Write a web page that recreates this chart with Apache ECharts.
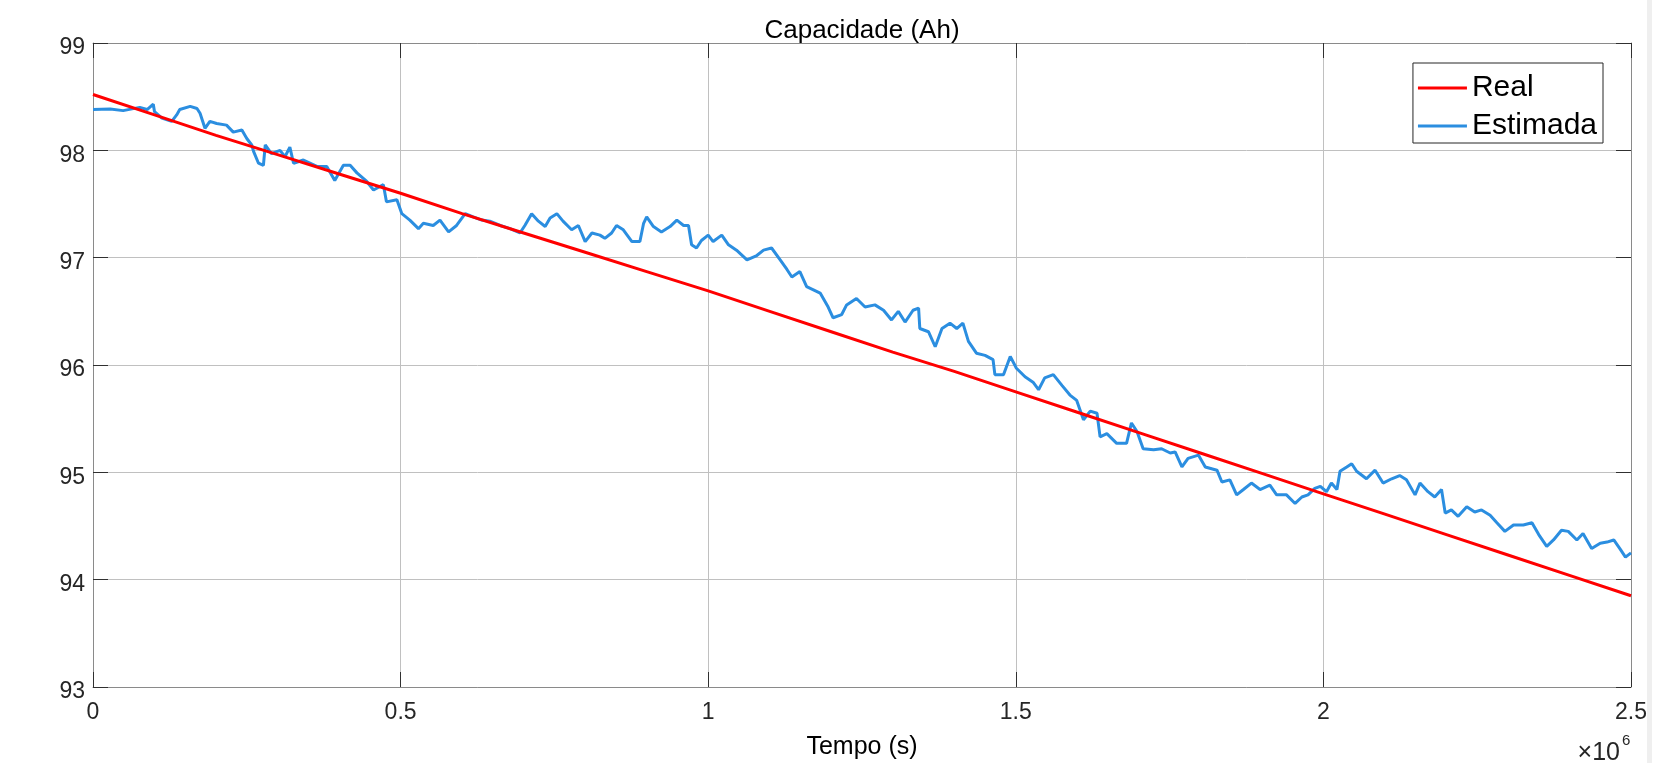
<!DOCTYPE html>
<html>
<head>
<meta charset="utf-8">
<script src="https://cdn.jsdelivr.net/npm/echarts@6/dist/echarts.min.js"></script>
<style>
html,body{margin:0;padding:0;background:#fff;}
#chart{width:1669px;height:763px;}
</style>
</head>
<body>
<div id="chart"></div>
<script>
// time in units of 1e6 s
var tReal = [0,0.1,0.2,0.3,0.4,0.5,0.6,0.7,0.8,0.9,1.0,1.1,1.2,1.3,1.4,1.5,1.6,1.7,1.8,1.9,2.0,2.1,2.2,2.3,2.4,2.5];
var capReal = [98.52,98.33,98.14,97.96,97.78,97.60,97.41,97.23,97.05,96.87,96.69,96.50,96.31,96.12,95.94,95.75,95.56,95.37,95.18,94.99,94.80,94.61,94.42,94.23,94.04,93.85];

var tEst = [0.000,0.028,0.049,0.076,0.088,0.098,0.100,0.112,0.128,0.136,0.141,0.158,0.169,0.174,0.182,0.190,0.201,0.217,0.228,0.242,0.250,0.258,0.261,0.269,0.277,0.280,0.290,0.304,0.312,0.320,0.326,0.342,0.364,0.380,0.393,0.407,0.418,0.429,0.445,0.456,0.472,0.477,0.494,0.502,0.515,0.529,0.537,0.553,0.564,0.578,0.591,0.605,0.618,0.632,0.645,0.662,0.678,0.694,0.702,0.713,0.724,0.735,0.743,0.754,0.764,0.778,0.789,0.800,0.811,0.824,0.832,0.843,0.851,0.862,0.876,0.889,0.895,0.900,0.911,0.924,0.938,0.949,0.960,0.968,0.973,0.981,0.989,1.000,1.008,1.022,1.033,1.046,1.063,1.079,1.090,1.103,1.117,1.128,1.136,1.149,1.160,1.171,1.182,1.195,1.203,1.217,1.225,1.241,1.255,1.271,1.285,1.298,1.309,1.320,1.333,1.342,1.344,1.358,1.369,1.380,1.393,1.404,1.414,1.423,1.436,1.450,1.463,1.466,1.480,1.491,1.501,1.515,1.528,1.537,1.547,1.561,1.575,1.588,1.599,1.610,1.621,1.632,1.637,1.648,1.664,1.680,1.688,1.697,1.707,1.724,1.737,1.751,1.759,1.770,1.780,1.797,1.808,1.827,1.835,1.848,1.859,1.870,1.883,1.897,1.913,1.924,1.940,1.954,1.965,1.975,1.986,1.995,2.005,2.013,2.022,2.027,2.038,2.046,2.054,2.070,2.084,2.097,2.111,2.124,2.135,2.149,2.157,2.170,2.181,2.192,2.198,2.208,2.219,2.233,2.246,2.257,2.271,2.282,2.295,2.309,2.325,2.339,2.350,2.363,2.374,2.387,2.398,2.412,2.422,2.436,2.450,2.461,2.472,2.483,2.491,2.500];
var capEst = [98.38,98.385,98.37,98.40,98.38,98.43,98.36,98.30,98.27,98.33,98.38,98.41,98.39,98.345,98.205,98.27,98.25,98.235,98.17,98.19,98.11,98.05,97.99,97.88,97.86,98.05,97.97,98.00,97.94,98.03,97.88,97.91,97.85,97.85,97.72,97.86,97.86,97.79,97.71,97.63,97.68,97.52,97.54,97.41,97.35,97.27,97.32,97.30,97.35,97.24,97.30,97.41,97.38,97.35,97.34,97.30,97.27,97.23,97.30,97.41,97.34,97.29,97.37,97.41,97.34,97.26,97.30,97.15,97.23,97.21,97.18,97.23,97.30,97.26,97.15,97.15,97.32,97.38,97.29,97.24,97.29,97.35,97.30,97.30,97.12,97.09,97.16,97.21,97.15,97.21,97.12,97.07,96.98,97.02,97.07,97.09,96.98,96.89,96.82,96.87,96.73,96.70,96.67,96.54,96.44,96.47,96.56,96.62,96.54,96.56,96.51,96.42,96.50,96.40,96.51,96.53,96.34,96.31,96.17,96.34,96.39,96.34,96.39,96.22,96.11,96.09,96.05,95.91,95.91,96.08,95.97,95.89,95.84,95.77,95.88,95.91,95.81,95.72,95.67,95.49,95.57,95.55,95.33,95.36,95.27,95.27,95.46,95.38,95.22,95.21,95.22,95.18,95.19,95.05,95.13,95.16,95.05,95.02,94.91,94.93,94.79,94.84,94.90,94.84,94.88,94.79,94.79,94.71,94.77,94.79,94.85,94.87,94.82,94.90,94.84,95.01,95.05,95.08,95.01,94.94,95.02,94.90,94.94,94.97,94.93,94.79,94.90,94.82,94.77,94.84,94.62,94.65,94.59,94.68,94.63,94.65,94.60,94.53,94.45,94.51,94.51,94.53,94.42,94.31,94.37,94.46,94.45,94.37,94.43,94.29,94.34,94.35,94.37,94.28,94.21,94.25];

var xTicks = [0, 0.5, 1, 1.5, 2, 2.5];
var yTicks = [93, 94, 95, 96, 97, 98, 99];
var seriesNames = ['Real', 'Estimada'];
var titleText = 'Capacidade (Ah)';
var xName = 'Tempo (s)';

function pairs(xs, ys) { return xs.map(function (x, i) { return [x, ys[i]]; }); }

var FONT = '"Liberation Sans", Arial, Helvetica, sans-serif';
var axisLineColor = '#8a8a8a';
var gridColor = '#c0c0c0';
var tickStyle = {show: true, inside: true, length: 15, lineStyle: {color: '#303030', width: 1}};
var lineStyleAxis = {show: true, onZero: false, lineStyle: {color: axisLineColor, width: 1}};

var chart = echarts.init(document.getElementById('chart'), null, {renderer: 'canvas'});
var option = {
  backgroundColor: '#ffffff',
  animation: false,
  textStyle: {fontFamily: FONT},
  title: {
    text: titleText, left: 862, textAlign: 'center', top: 18, padding: 0,
    textStyle: {fontFamily: FONT, fontSize: 26, fontWeight: 'normal', color: '#000'}
  },
  legend: {
    orient: 'vertical', right: 66, top: 63,
    backgroundColor: '#fff', borderColor: '#262626', borderWidth: 1,
    padding: [10, 6, 2, 5], itemGap: 8, itemWidth: 49, itemHeight: 3,
    icon: 'rect',
    textStyle: {fontFamily: FONT, fontSize: 30, lineHeight: 30, color: '#000'},
    data: seriesNames
  },
  grid: {left: 93, right: 38, top: 43, bottom: 76, containLabel: false, outerBoundsMode: 'none'},
  xAxis: [{
    type: 'value', min: xTicks[0], max: xTicks[xTicks.length - 1], interval: 0.5,
    name: xName, nameLocation: 'middle', nameGap: 48,
    nameTextStyle: {fontFamily: FONT, fontSize: 25, color: '#000'},
    axisLine: lineStyleAxis,
    axisTick: tickStyle,
    axisLabel: {fontFamily: FONT, fontSize: 23, color: '#262626', margin: 14,
      formatter: function (v) { return String(v); }},
    splitLine: {show: true, lineStyle: {color: gridColor, width: 1}}
  }, {
    type: 'value', position: 'top', min: xTicks[0], max: xTicks[xTicks.length - 1], interval: 0.5,
    axisLine: lineStyleAxis,
    axisTick: tickStyle,
    axisLabel: {show: false}, splitLine: {show: false}
  }],
  yAxis: [{
    type: 'value', min: yTicks[0], max: yTicks[yTicks.length - 1], interval: 1,
    axisLine: lineStyleAxis,
    axisTick: tickStyle,
    axisLabel: {margin: 8, formatter: '{a|{value}}',
      rich: {a: {fontFamily: FONT, fontSize: 23, color: '#262626', padding: [10, 0, 0, 0]}}},
    splitLine: {show: true, lineStyle: {color: gridColor, width: 1}}
  }, {
    type: 'value', position: 'right', min: yTicks[0], max: yTicks[yTicks.length - 1], interval: 1,
    axisLine: lineStyleAxis,
    axisTick: tickStyle,
    axisLabel: {show: false}, splitLine: {show: false}
  }],
  series: [{
    name: seriesNames[0], type: 'line', xAxisIndex: 0, yAxisIndex: 0,
    data: pairs(tReal, capReal), showSymbol: false, symbol: 'none',
    lineStyle: {color: '#ff0000', width: 3}, itemStyle: {color: '#ff0000'}, z: 3
  }, {
    name: seriesNames[1], type: 'line', xAxisIndex: 0, yAxisIndex: 0,
    data: pairs(tEst, capEst), showSymbol: false, symbol: 'none',
    lineStyle: {color: '#2b8ee0', width: 3}, itemStyle: {color: '#2b8ee0'}, z: 2
  }],
  graphic: [{
    type: 'text', x: 1620, y: 753,
    style: {text: '×10', font: '25px ' + FONT, fill: '#262626', align: 'right', verticalAlign: 'middle'}
  }, {
    type: 'text', x: 1622, y: 748,
    style: {text: '6', font: '15px ' + FONT, fill: '#262626', align: 'left', verticalAlign: 'bottom'}
  }, {
    type: 'rect', shape: {x: 1647, y: 0, width: 5, height: 763},
    style: {fill: '#efefef'}, silent: true
  }]
};
chart.setOption(option);
</script>
</body>
</html>
